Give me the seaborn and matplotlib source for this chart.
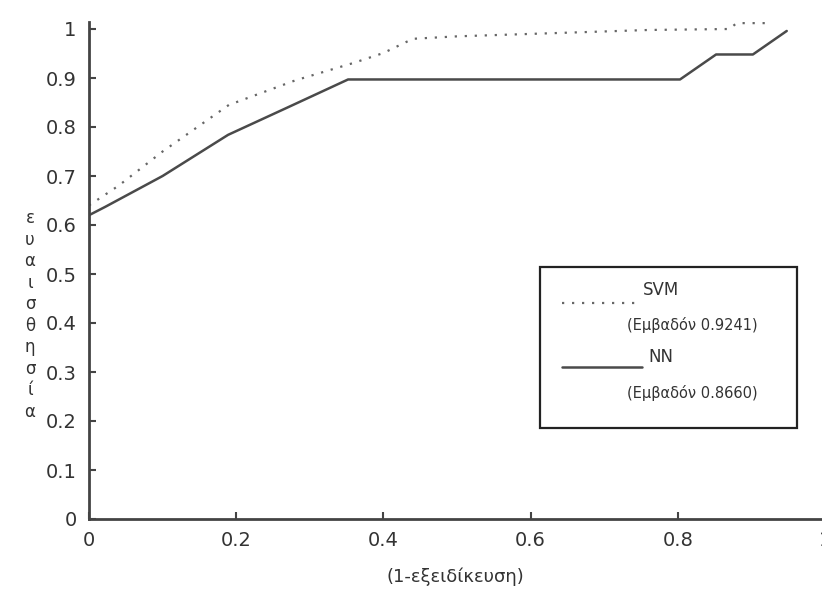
import matplotlib
matplotlib.use("Agg")
import matplotlib.pyplot as plt
import seaborn as sns
import pandas as pd
from matplotlib.lines import Line2D
from matplotlib.patches import Rectangle

# Data
svm_x = [0.0, 0.04, 0.10, 0.19, 0.28, 0.36, 0.40, 0.44, 0.50, 0.60, 0.76, 0.87, 0.88, 0.925]
svm_y = [0.64, 0.68, 0.75, 0.845, 0.895, 0.931, 0.951, 0.98, 0.985, 0.99, 0.998, 1.0, 1.012, 1.012]
nn_x = [0.0, 0.022, 0.10, 0.189, 0.27, 0.352, 0.60, 0.803, 0.852, 0.902, 0.948]
nn_y = [0.62, 0.637, 0.70, 0.784, 0.84, 0.897, 0.897, 0.897, 0.948, 0.948, 0.996]
x_ticks = [0, 0.2, 0.4, 0.6, 0.8, 1]
y_ticks = [0, 0.1, 0.2, 0.3, 0.4, 0.5, 0.6, 0.7, 0.8, 0.9, 1]
x_label = "(1-εξειδίκευση)"
y_label = "ευαισθησία"
svm_name = "SVM"
svm_area = "(Εμβαδόν 0.9241)"
nn_name = "NN"
nn_area = "(Εμβαδόν 0.8660)"

sns.set_style("ticks")
plt.rcParams['font.family'] = ['DejaVu Sans']

df_svm = pd.DataFrame({"x": svm_x, "y": svm_y})
df_nn = pd.DataFrame({"x": nn_x, "y": nn_y})

fig = plt.figure(figsize=(8.22, 5.97), dpi=100)
W, H = 822, 597
ax = fig.add_axes([89 / W, (H - 519) / H, 736 / W, 497 / H])

dot_style = (0, (1, 3.5))
sns.lineplot(data=df_svm, x="x", y="y", ax=ax, color="#666666", linewidth=1.6,
             linestyle=dot_style, sort=False, estimator=None)
sns.lineplot(data=df_nn, x="x", y="y", ax=ax, color="#4a4a4a", linewidth=1.8,
             sort=False, estimator=None)

ax.set_xlim(0, 1)
ax.set_ylim(0, 1 + 7 / 490)
ax.set_xticks(x_ticks)
ax.set_xticklabels(["0", "0.2", "0.4", "0.6", "0.8", "1"])
ax.set_yticks(y_ticks)
ax.set_yticklabels(["0", "0.1", "0.2", "0.3", "0.4", "0.5", "0.6", "0.7", "0.8", "0.9", "1"])
ax.tick_params(direction="in", length=5, width=1.5, color="#444444",
               labelsize=14, labelcolor="#333333", pad=9)
for s in ["top", "right"]:
    ax.spines[s].set_visible(False)
for s in ["left", "bottom"]:
    ax.spines[s].set_linewidth(2.0)
    ax.spines[s].set_color("#444444")
ax.set_xlabel("")
ax.set_ylabel("")

# x label
fig.text(455 / W, 1 - 577 / H, x_label, ha="center", va="center", fontsize=13, color="#333333")
# y label stacked vertically
fig.text(30 / W, 1 - 315 / H, "\n".join(list(y_label)), ha="center", va="center",
         fontsize=12, color="#333333", linespacing=1.25)

# legend box (axes fraction coordinates)
def axf(px, py):
    return ((px - 89) / 736, (519 - py) / 497)

x0, y0 = axf(540, 428)
x1, y1 = axf(797, 267)
ax.add_patch(Rectangle((x0, y0), x1 - x0, y1 - y0, transform=ax.transAxes,
                       facecolor="white", edgecolor="#222222", linewidth=1.6, zorder=5))
lx0, ly = axf(562, 303)
lx1, _ = axf(640, 303)
ax.add_line(Line2D([lx0, lx1], [ly, ly], transform=ax.transAxes, color="#666666",
                   linewidth=1.6, linestyle=dot_style, zorder=6))
lx0, ly = axf(562, 367)
lx1, _ = axf(642, 367)
ax.add_line(Line2D([lx0, lx1], [ly, ly], transform=ax.transAxes, color="#4a4a4a",
                   linewidth=1.8, zorder=6))
tx, ty = axf(643, 290)
ax.text(tx, ty, svm_name, transform=ax.transAxes, ha="left", va="center", fontsize=12,
        color="#333333", zorder=7)
tx, ty = axf(627, 325)
ax.text(tx, ty, svm_area, transform=ax.transAxes, ha="left", va="center", fontsize=10.5,
        color="#333333", zorder=7)
tx, ty = axf(648, 357)
ax.text(tx, ty, nn_name, transform=ax.transAxes, ha="left", va="center", fontsize=12,
        color="#333333", zorder=7)
tx, ty = axf(627, 393)
ax.text(tx, ty, nn_area, transform=ax.transAxes, ha="left", va="center", fontsize=10.5,
        color="#333333", zorder=7)

fig.savefig("out.png", dpi=100, facecolor="white")
